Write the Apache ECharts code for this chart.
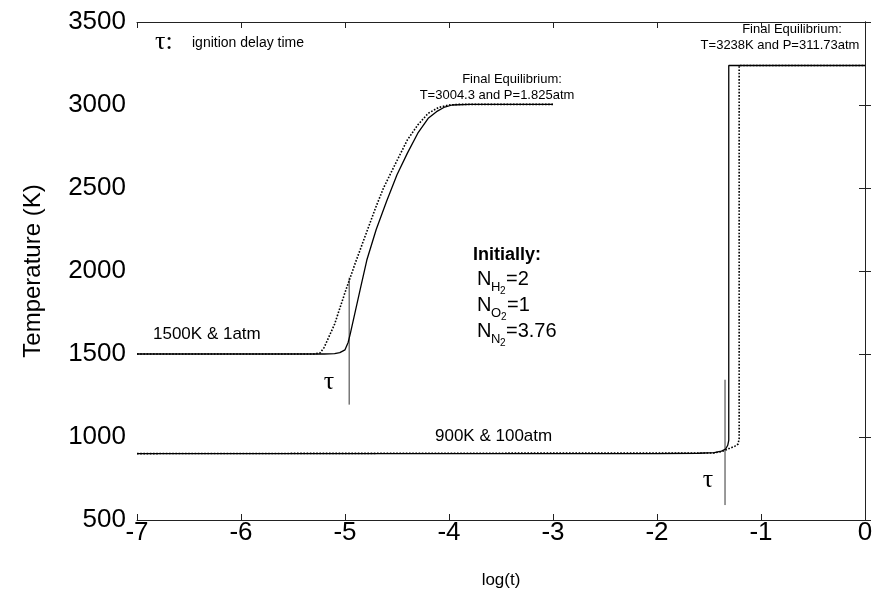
<!DOCTYPE html>
<html><head><meta charset="utf-8">
<script src="https://cdn.jsdelivr.net/npm/echarts@6/dist/echarts.min.js"></script>
<style>html,body{margin:0;padding:0;background:#fff}#c{width:873px;height:590px}</style>
</head><body><div id="c"></div>
<script>
// 1500K & 1atm, solid (computed)
const lowP_solid_x = [-7, -6, -5.5, -5.2, -5.1, -5.05, -5.0, -4.97, -4.95, -4.9, -4.85, -4.79, -4.7, -4.6, -4.5, -4.4, -4.3, -4.2, -4.12, -4.05, -3.97, -3.8, -3.0];
const lowP_solid_T = [1500, 1500, 1500, 1500, 1502, 1508, 1525, 1570, 1620, 1760, 1900, 2066, 2250, 2420, 2580, 2710, 2830, 2920, 2960, 2985, 3000, 3004, 3004];
// 1500K & 1atm, dotted
const lowP_dot_x = [-7, -5.3, -5.24, -5.2, -5.1, -5.0, -4.9, -4.8, -4.7, -4.63, -4.52, -4.4, -4.3, -4.2, -4.1, -4.0, -3.9, -3.0];
const lowP_dot_T = [1500, 1500, 1506, 1540, 1680, 1870, 2050, 2220, 2390, 2500, 2640, 2790, 2880, 2950, 2985, 3000, 3004, 3004];
// 900K & 100atm, solid
const highP_solid_x = [-7, -2, -1.6, -1.45, -1.38, -1.34, -1.32, -1.31, -1.31, 0];
const highP_solid_T = [900, 900, 902, 906, 915, 928, 950, 980, 3238, 3238];
// 900K & 100atm, dotted
const highP_dot_x = [-7, -1.45, -1.38, -1.34, -1.3, -1.25, -1.22, -1.21, -1.21, 0];
const highP_dot_T = [900, 904, 912, 922, 932, 945, 958, 990, 3238, 3238];
// ignition delay markers
const tau1_x = [-4.96, -4.96];
const tau1_T = [1195, 1960];
const tau2_x = [-1.346, -1.346];
const tau2_T = [590, 1345];
// axes
const xTicks = [-7, -6, -5, -4, -3, -2, -1, 0];
const yTicks = [500, 1000, 1500, 2000, 2500, 3000, 3500];

const zip = (a, b) => a.map((v, i) => [v, b[i]]);
const chart = echarts.init(document.getElementById('c'), null, {renderer: 'canvas'});
const SANS = '"Liberation Sans", Arial, sans-serif';
const SERIF = '"Liberation Serif", "DejaVu Serif", serif';
const axisLine = {show: true, lineStyle: {color: '#222', width: 1}};
const tick = {show: true, inside: true, length: 6, lineStyle: {color: '#222'}};
const plain = v => String(v);
const lineSeries = (data, type, w) => ({
  type: 'line', data, showSymbol: false, symbol: 'none', animation: false,
  lineStyle: {color: '#000', width: w, type: type}, xAxisIndex: 0, yAxisIndex: 0, z: 3
});
const t = (x, y, text, font, extra) => ({type: 'text', x, y, style: Object.assign({text, font, fill: '#000', verticalAlign: 'middle'}, extra || {})});
chart.setOption({
  backgroundColor: '#fff',
  animation: false,
  grid: {left: 137, right: 8, top: 22, bottom: 70, containLabel: false, outerBoundsMode: 'none'},
  xAxis: [
    {type: 'value', min: xTicks[0], max: xTicks[xTicks.length - 1], interval: 1, position: 'bottom',
     name: 'log(t)', nameLocation: 'middle', nameGap: 52,
     nameTextStyle: {fontFamily: SANS, fontSize: 17, color: '#000'},
     axisLine, axisTick: tick, splitLine: {show: false},
     axisLabel: {fontFamily: SANS, fontSize: 26, color: '#000', margin: 0, formatter: plain}},
    {type: 'value', min: xTicks[0], max: xTicks[xTicks.length - 1], interval: 1, position: 'top',
     axisLine, axisTick: tick, splitLine: {show: false}, axisLabel: {show: false}}
  ],
  yAxis: [
    {type: 'value', min: yTicks[0], max: yTicks[yTicks.length - 1], interval: 500, position: 'left',
     name: 'Temperature (K)', nameLocation: 'middle', nameGap: 92, nameRotate: 90,
     nameTextStyle: {fontFamily: SANS, fontSize: 24, color: '#000'},
     axisLine, axisTick: tick, splitLine: {show: false},
     axisLabel: {fontFamily: SANS, fontSize: 26, color: '#000', margin: 11, formatter: plain}},
    {type: 'value', min: yTicks[0], max: yTicks[yTicks.length - 1], interval: 500, position: 'right',
     axisLine, axisTick: tick, splitLine: {show: false}, axisLabel: {show: false}}
  ],
  series: [
    lineSeries(zip(lowP_solid_x, lowP_solid_T), 'solid', 1.3),
    lineSeries(zip(lowP_dot_x, lowP_dot_T), 'dotted', 1.6),
    lineSeries(zip(highP_solid_x, highP_solid_T), 'solid', 1.3),
    lineSeries(zip(highP_dot_x, highP_dot_T), 'dotted', 1.6),
    lineSeries(zip(tau1_x, tau1_T), 'solid', 0.8),
    lineSeries(zip(tau2_x, tau2_T), 'solid', 0.8)
  ],
  graphic: [
    t(155, 42, 'τ:', '26px ' + SERIF),
    t(192, 43, 'ignition delay time', '14px ' + SANS),
    t(512, 79, 'Final Equilibrium:', '13px ' + SANS, {align: 'center'}),
    t(497, 95, 'T=3004.3 and P=1.825atm', '13px ' + SANS, {align: 'center'}),
    t(792, 29, 'Final Equilibrium:', '13px ' + SANS, {align: 'center'}),
    t(780, 45, 'T=3238K and P=311.73atm', '13px ' + SANS, {align: 'center'}),
    t(473, 255, 'Initially:', 'bold 18px ' + SANS),
    t(477, 279, 'N', '20px ' + SANS),
    t(491, 287, 'H', '13px ' + SANS),
    t(500, 291, '2', '10px ' + SANS),
    t(506, 279, '=2', '20px ' + SANS),
    t(477, 305, 'N', '20px ' + SANS),
    t(491, 313, 'O', '13px ' + SANS),
    t(501, 317, '2', '10px ' + SANS),
    t(507, 305, '=1', '20px ' + SANS),
    t(477, 331, 'N', '20px ' + SANS),
    t(491, 339, 'N', '13px ' + SANS),
    t(500, 343, '2', '10px ' + SANS),
    t(506, 331, '=3.76', '20px ' + SANS),
    t(153, 334, '1500K & 1atm', '17px ' + SANS),
    t(435, 436, '900K & 100atm', '17px ' + SANS),
    t(329, 382, 'τ', '26px ' + SERIF, {align: 'center'}),
    t(708, 480, 'τ', '26px ' + SERIF, {align: 'center'})
  ]
});
</script></body></html>
